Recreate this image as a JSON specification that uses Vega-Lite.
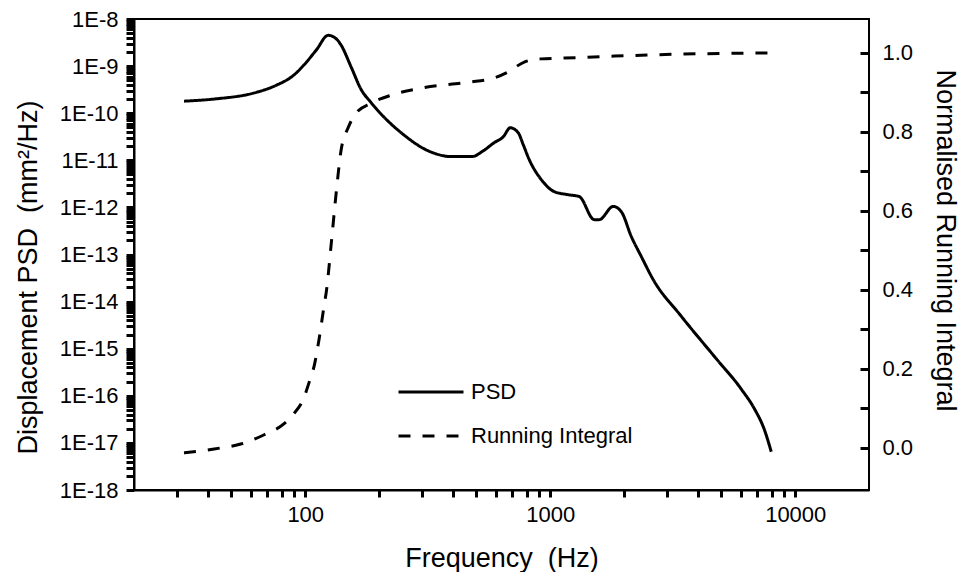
{
  "$schema": "https://vega.github.io/schema/vega-lite/v6.json",
  "width": 735,
  "height": 471,
  "autosize": {"type": "none"},
  "padding": {"left": 134, "top": 19, "right": 90, "bottom": 82},
  "background": "white",
  "config": {
    "font": "Liberation Sans",
    "view": {"stroke": "black", "strokeWidth": 2},
    "axis": {
      "grid": false,
      "domainColor": "black",
      "domainWidth": 2,
      "labelColor": "black",
      "titleColor": "black",
      "labelFont": "Liberation Sans",
      "titleFont": "Liberation Sans",
      "labelFontSize": 22,
      "titleFontSize": 27,
      "titleFontWeight": "normal",
      "labelOverlap": false
    }
  },
  "datasets": {
    "psd": [
      {"f": 32, "psd": 1.8e-10},
      {"f": 42.5, "psd": 2.0e-10},
      {"f": 62, "psd": 2.7e-10},
      {"f": 76, "psd": 3.9e-10},
      {"f": 90, "psd": 6.5e-10},
      {"f": 99, "psd": 1.07e-9},
      {"f": 111, "psd": 2.2e-9},
      {"f": 124, "psd": 4.5e-9},
      {"f": 133, "psd": 3.9e-9},
      {"f": 140, "psd": 2.8e-9},
      {"f": 154, "psd": 9.5e-10},
      {"f": 169, "psd": 3.2e-10},
      {"f": 186, "psd": 1.66e-10},
      {"f": 247, "psd": 3.8e-11},
      {"f": 326, "psd": 1.5e-11},
      {"f": 394, "psd": 1.2e-11},
      {"f": 484, "psd": 1.21e-11},
      {"f": 524, "psd": 1.5e-11},
      {"f": 590, "psd": 2.36e-11},
      {"f": 643, "psd": 3.16e-11},
      {"f": 687, "psd": 4.9e-11},
      {"f": 740, "psd": 3.85e-11},
      {"f": 776, "psd": 2.14e-11},
      {"f": 821, "psd": 1.03e-11},
      {"f": 919, "psd": 3.9e-12},
      {"f": 1038, "psd": 2.16e-12},
      {"f": 1184, "psd": 1.86e-12},
      {"f": 1313, "psd": 1.7e-12},
      {"f": 1512, "psd": 5.5e-13},
      {"f": 1585, "psd": 5.5e-13},
      {"f": 1807, "psd": 1.05e-12},
      {"f": 1950, "psd": 8.1e-13},
      {"f": 2143, "psd": 2.4e-13},
      {"f": 2352, "psd": 9.1e-14},
      {"f": 2630, "psd": 2.95e-14},
      {"f": 3424, "psd": 4.9e-15},
      {"f": 4670, "psd": 6.9e-16},
      {"f": 6025, "psd": 1.38e-16},
      {"f": 6827, "psd": 5.2e-17},
      {"f": 7470, "psd": 1.95e-17},
      {"f": 7980, "psd": 6.5e-18}
    ],
    "ri": [
      {"f": 32, "ri": -0.013},
      {"f": 42.5, "ri": -0.003},
      {"f": 55, "ri": 0.01},
      {"f": 68, "ri": 0.033},
      {"f": 82, "ri": 0.061},
      {"f": 90, "ri": 0.087},
      {"f": 98, "ri": 0.122},
      {"f": 104, "ri": 0.168},
      {"f": 109, "ri": 0.21},
      {"f": 114, "ri": 0.277},
      {"f": 119, "ri": 0.354},
      {"f": 122, "ri": 0.397},
      {"f": 128, "ri": 0.524},
      {"f": 134, "ri": 0.651},
      {"f": 140, "ri": 0.753},
      {"f": 150, "ri": 0.812},
      {"f": 161, "ri": 0.847},
      {"f": 186, "ri": 0.873},
      {"f": 224, "ri": 0.893},
      {"f": 297, "ri": 0.911},
      {"f": 463, "ri": 0.926},
      {"f": 585, "ri": 0.936},
      {"f": 673, "ri": 0.952},
      {"f": 783, "ri": 0.977},
      {"f": 915, "ri": 0.985},
      {"f": 1140, "ri": 0.987},
      {"f": 1830, "ri": 0.992},
      {"f": 3424, "ri": 0.997},
      {"f": 8000, "ri": 1.0}
    ]
  },
  "layer": [
    {
      "data": {"name": "psd"},
      "mark": {"type": "line", "color": "black", "strokeWidth": 3, "interpolate": "monotone"},
      "encoding": {
        "x": {
          "field": "f",
          "type": "quantitative",
          "scale": {"type": "log", "domain": [20, 20000]},
          "axis": {
            "orient": "bottom",
            "title": "Frequency\u00a0 (Hz)",
            "titleBaseline": "alphabetic",
            "titleY": 76,
            "values": [30, 40, 50, 60, 70, 80, 90, 100, 200, 300, 400, 500, 600, 700, 800, 900, 1000, 2000, 3000, 4000, 5000, 6000, 7000, 8000, 9000, 10000],
            "labelExpr": "(datum.value == 100 || datum.value == 1000 || datum.value == 10000) ? format(datum.value, 'd') : ''",
            "labelOverlap": false,
            "ticks": true,
            "tickColor": "black",
            "tickWidth": 3,
            "tickSize": 7,
            "labelPadding": 7
          }
        },
        "y": {
          "field": "psd",
          "type": "quantitative",
          "scale": {"type": "log", "domain": [1e-18, 1e-8]},
          "axis": {
            "orient": "left",
            "title": "Displacement PSD\u00a0 (mm\u00b2/Hz)",
            "titleAngle": -90,
            "titleAlign": "center",
            "titleBaseline": "alphabetic",
            "titleX": -98,
            "titleY": 258,
            "values": [1e-18, 2e-18, 3e-18, 4e-18, 5e-18, 6e-18, 7e-18, 8e-18, 9e-18,
                       1e-17, 2e-17, 3e-17, 4e-17, 5e-17, 6e-17, 7e-17, 8e-17, 9e-17,
                       1e-16, 2e-16, 3e-16, 4e-16, 5e-16, 6e-16, 7e-16, 8e-16, 9e-16,
                       1e-15, 2e-15, 3e-15, 4e-15, 5e-15, 6e-15, 7e-15, 8e-15, 9e-15,
                       1e-14, 2e-14, 3e-14, 4e-14, 5e-14, 6e-14, 7e-14, 8e-14, 9e-14,
                       1e-13, 2e-13, 3e-13, 4e-13, 5e-13, 6e-13, 7e-13, 8e-13, 9e-13,
                       1e-12, 2e-12, 3e-12, 4e-12, 5e-12, 6e-12, 7e-12, 8e-12, 9e-12,
                       1e-11, 2e-11, 3e-11, 4e-11, 5e-11, 6e-11, 7e-11, 8e-11, 9e-11,
                       1e-10, 2e-10, 3e-10, 4e-10, 5e-10, 6e-10, 7e-10, 8e-10, 9e-10,
                       1e-9, 2e-9, 3e-9, 4e-9, 5e-9, 6e-9, 7e-9, 8e-9, 9e-9, 1e-8],
            "labelExpr": "abs(log(datum.value)/LN10 - round(log(datum.value)/LN10)) < 0.001 ? '1E' + round(log(datum.value)/LN10) : ''",
            "labelOverlap": false,
            "ticks": true,
            "tickColor": "black",
            "tickWidth": 3,
            "tickSize": 8,
            "labelPadding": 8
          }
        },
        "strokeDash": {
          "datum": "PSD",
          "type": "nominal",
          "scale": {"domain": ["PSD", "Running Integral"], "range": [[1, 0], [12, 12]]},
          "legend": {
            "orient": "none",
            "legendX": 263,
            "legendY": 363,
            "direction": "vertical",
            "title": null,
            "padding": 0,
            "clipHeight": 20,
            "rowPadding": 22,
            "symbolType": "stroke",
            "symbolSize": 4225,
            "symbolStrokeWidth": 3,
            "symbolStrokeColor": "black",
            "labelFont": "Liberation Sans",
            "labelFontSize": 22,
            "labelColor": "black",
            "labelOffset": 6,
            "labelLimit": 400
          }
        }
      }
    },
    {
      "data": {"name": "ri"},
      "mark": {"type": "line", "color": "black", "strokeWidth": 3, "interpolate": "monotone"},
      "encoding": {
        "x": {"field": "f", "type": "quantitative", "scale": {"type": "log", "domain": [20, 20000]}},
        "y": {
          "field": "ri",
          "type": "quantitative",
          "scale": {"domain": [-0.107, 1.086], "zero": false, "nice": false},
          "axis": {
            "orient": "right",
            "offset": -9,
            "domain": false,
            "title": "Normalised Running Integral",
            "titleAngle": 90,
            "titleAlign": "center",
            "titleBaseline": "alphabetic",
            "titleX": 76,
            "titleY": 221,
            "values": [0, 0.1, 0.2, 0.3, 0.4, 0.5, 0.6, 0.7, 0.8, 0.9, 1.0],
            "labelExpr": "round(datum.value*10) % 2 == 0 ? format(datum.value, '.1f') : ''",
            "labelOverlap": false,
            "ticks": true,
            "tickColor": "black",
            "tickWidth": 3,
            "tickSize": 9,
            "labelPadding": 13
          }
        },
        "strokeDash": {"datum": "Running Integral", "type": "nominal"}
      }
    }
  ],
  "resolve": {"scale": {"y": "independent"}}
}
